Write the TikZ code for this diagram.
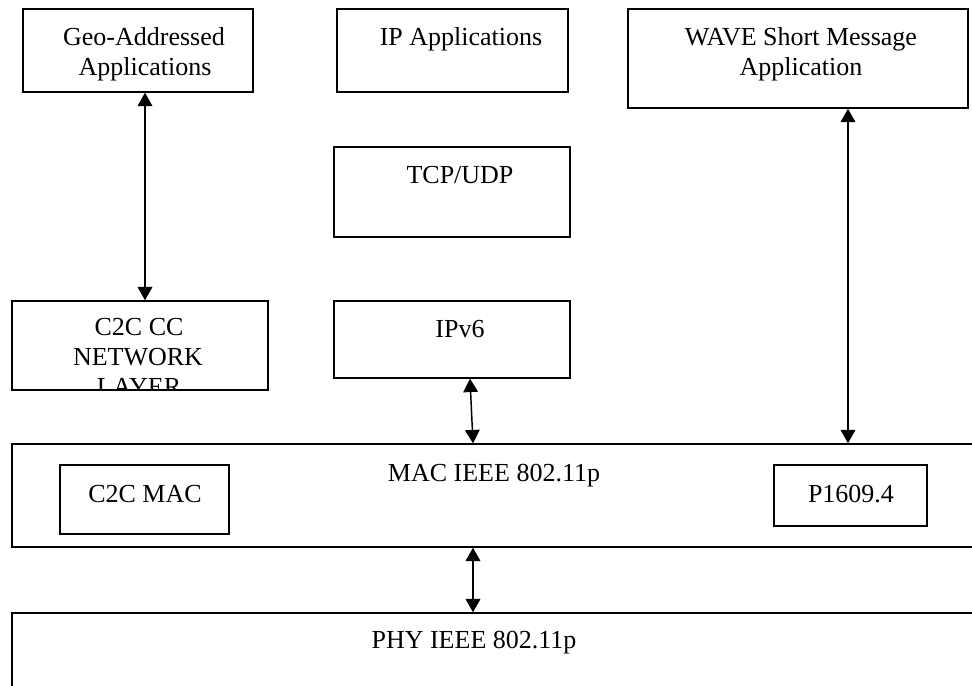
\documentclass[tikz,border=0pt]{standalone}
\usepackage{fontspec}
\setmainfont{Liberation Serif}
\usetikzlibrary{arrows.meta,fit}
\begin{document}
\begin{tikzpicture}[x=0.75pt,y=-0.75pt,
  box/.style={draw, line width=1.1pt, inner sep=0pt},
  txt/.style={anchor=base, inner sep=0pt, font=\fontsize{19.5}{22.5}\selectfont},
  dbl/.style={{Triangle[length=10pt,width=11pt]}-{Triangle[length=10pt,width=11pt]}, line width=1.1pt}]
\useasboundingbox (0,0) rectangle (972,686);
\clip (0,0) rectangle (972,686);
% boxes
\node[box, fit={(23,9) (253,92)}] (geo) {};
\node[box, fit={(337,9) (568,92)}] (ipapp) {};
\node[box, fit={(628,9) (968,108)}] (wave) {};
\node[box, fit={(334,147) (570,237)}] (tcp) {};
\node[box, fit={(334,301) (570,378)}] (ipv6) {};
\node[box, fit={(12,301) (268,390)}] (c2ccc) {};
\node[box, fit={(12,444) (990,547)}] (mac) {};
\node[box, fit={(60,465) (229,534)}] (c2cmac) {};
\node[box, fit={(774,465) (927,526)}] (p1609) {};
\node[box, fit={(12,613) (990,720)}] (phy) {};
% texts
\node[txt] (tgeo1) at (144,45) {Geo-Addressed};
\node[txt] (tgeo2) at (145,75) {Applications};
\node[txt] (tip) at (461,45) {IP Applications};
\node[txt] (twave1) at (801,45) {WAVE Short Message};
\node[txt] (twave2) at (801,75) {Application};
\node[txt] (ttcp) at (460,183) {TCP/UDP};
\node[txt] (tipv6) at (460,337) {IPv6};
\begin{scope}
\clip (13,302) rectangle (267,389);
\node[txt] (tc1) at (139,335) {C2C CC};
\node[txt] (tc2) at (138,365) {NETWORK};
\node[txt] (tc3) at (139,395) {LAYER};
\end{scope}
\node[txt] (tmac) at (494,481) {MAC IEEE 802.11p};
\node[txt] (tc2cmac) at (145,502) {C2C MAC};
\node[txt] (tp1609) at (851,502) {P1609.4};
\node[txt] (tphy) at (474,648) {PHY IEEE 802.11p};
% connectors
\coordinate (ga) at (145,0);
\coordinate (wa) at (848,0);
\coordinate (ia) at (470,0);
\coordinate (ib) at (473,0);
\coordinate (ma) at (473,0);
\draw[dbl] (ga |- geo.south) -- (ga |- c2ccc.north);
\draw[dbl] (wa |- wave.south) -- (wa |- mac.north);
\draw[dbl] (ia |- ipv6.south) -- (ib |- mac.north);
\draw[dbl] (ma |- mac.south) -- (ma |- phy.north);
\end{tikzpicture}
\end{document}
